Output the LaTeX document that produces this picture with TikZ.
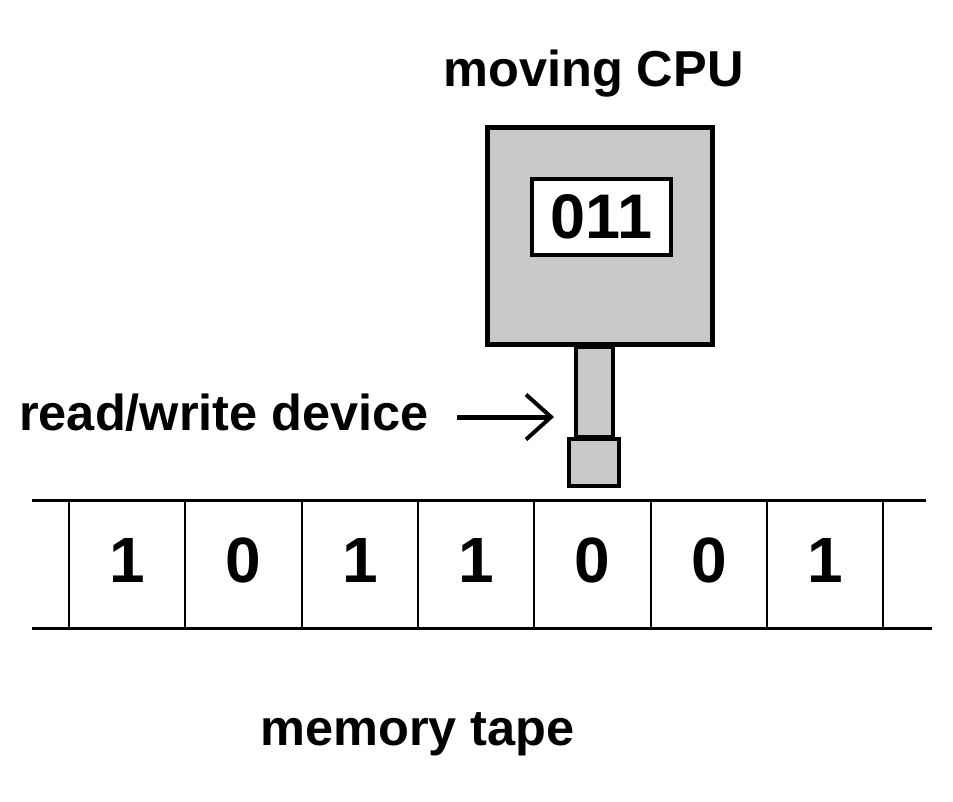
\documentclass[tikz,border=0pt]{standalone}
\usepackage{fontspec}
\setmainfont{Liberation Sans}
\usetikzlibrary{arrows.meta}
\definecolor{cpugray}{RGB}{200,200,200}
\tikzset{
  box/.style={draw=black, fill=cpugray, inner sep=0pt, outer sep=0pt},
  lbl/.style={inner sep=0pt, font=\bfseries\fontsize{50.5}{51}\selectfont},
  digit/.style={inner sep=0pt, font=\bfseries\fontsize{64}{64}\selectfont},
  tapeline/.style={line width=3pt},
  sepline/.style={line width=2.5pt},
}
\begin{document}
\begin{tikzpicture}[x=1pt,y=-1pt]
\useasboundingbox[fill=white] (0,0) rectangle (953,802);
% stem and head
\node[box, line width=4pt, minimum width=37pt, minimum height=90pt] (stem) at (594.5,392) {};
\node[box, line width=5pt, minimum width=225pt, minimum height=217pt] (cpu) at (600,236) {};
\node[box, line width=4pt, minimum width=50pt, minimum height=47pt] (head) at (594,462.5) {};
\node[draw=black, fill=white, line width=4pt, inner sep=0pt, minimum width=139pt, minimum height=76pt,
      font=\bfseries\fontsize{63}{63}\selectfont] (reg) at (601.5,217) {011};
% labels
\node[lbl, anchor=base] (cpulbl) at (593.5,87) {moving CPU};
\node[lbl, anchor=base west] (rwlbl) at (19,430) {read/write device};
\node[lbl, anchor=base] (tapelbl) at (417.5,745) {memory tape};
% arrow
\coordinate (astart) at (457,417);
\draw[line width=5pt, -{Straight Barb[length=25pt,width=45pt,line width=4pt]}, shorten >=22pt]
  (astart) -- (astart -| stem.west);
% tape
\coordinate (tl) at (32,500);
\coordinate (tr) at (926,500);
\coordinate (bl) at (32,628);
\coordinate (br) at (932,628);
\draw[tapeline] (tl) -- (tr);
\draw[tapeline] (bl) -- (br);
\foreach \x/\n in {69/s0,185/s1,302/s2,418/s3,534/s4,651/s5,767/s6,883/s7}{
  \coordinate (\n t) at (\x,500);
  \coordinate (\n b) at (\x,628);
  \draw[sepline] (\n t) -- (\n b);
}
\foreach \x/\d/\n in {127/1/c1,243.5/0/c2,360/1/c3,476/1/c4,592.5/0/c5,709/0/c6,825/1/c7}{
  \node[digit] (\n) at (\x,560) {\d};
}
\end{tikzpicture}
\end{document}
